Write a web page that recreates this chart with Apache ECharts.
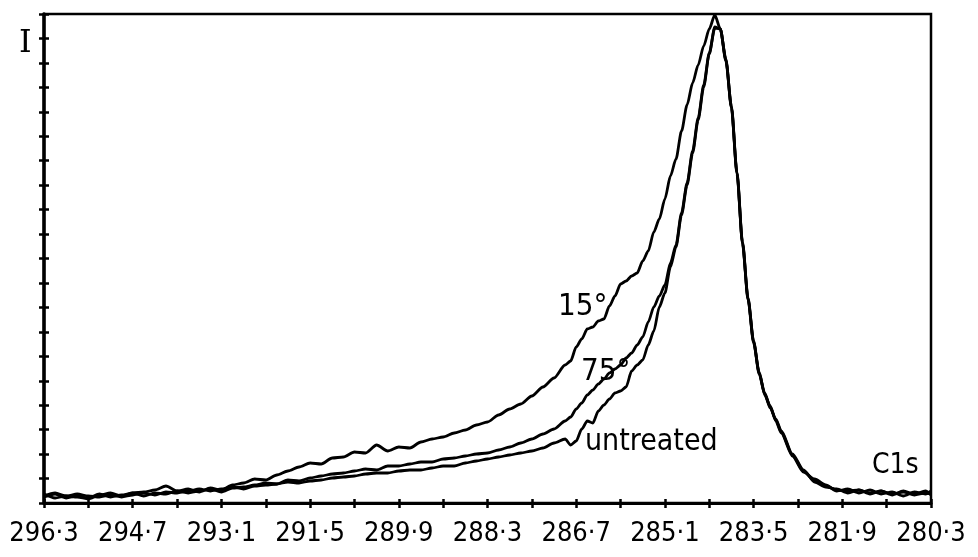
<!DOCTYPE html>
<html>
<head>
<meta charset="utf-8">
<script src="https://cdn.jsdelivr.net/npm/echarts@6/dist/echarts.min.js"></script>
<style>
html,body{margin:0;padding:0;background:#fff;}
#chart{width:978px;height:557px;}
</style>
</head>
<body>
<div id="chart"></div>
<script>
// Binding energy (eV)
const energy = [
  296.3,296.1,295.9,295.7,295.5,295.3,295.1,294.9,294.7,294.5,294.3,294.1,293.9,293.7,293.5,293.3,293.1,292.9,292.7,292.5,
  292.3,292.1,291.9,291.7,291.5,291.3,291.1,290.9,290.7,290.5,290.3,290.1,289.9,289.7,289.5,289.3,289.1,288.9,288.7,288.5,
  288.3,288.1,287.9,287.7,287.5,287.3,287.1,286.9,
  286.8,286.7,286.6,286.5,286.4,286.3,286.2,286.1,286.0,285.9,285.8,285.7,285.6,285.5,285.4,285.3,285.2,285.1,285.0,284.9,
  284.8,284.7,284.6,284.5,284.4,284.3,284.2,284.1,284.0,283.9,283.8,283.7,283.6,283.5,283.4,283.3,283.2,283.1,283.0,
  282.8,282.6,282.4,282.2,282.0,281.8,281.6,281.4,281.2,281.0,280.8,280.6,280.4,280.3
];
// Intensity (arb. units)
const angle15 = [
  7,10,7,6,4,8,10,7,10,11,13,17,12,14,11,15,13,18,20,24,
  23,28,32,36,40,39,45,46,51,50,58,52,56,55,61,64,66,70,73,78,
  81,88,94,99,107,116,125,138,
  142,156,164,174,176,182,184,197,207,219,222,227,230,242,252,271,284,304,327,344,
  372,398,420,438,457,474,488,474,444,396,330,260,204,162,130,110,96,83,71,
  48,32,22,17,13,12,13,10,12,9,11,8,10,9
];
const angle75 = [
  6,9,5,7,5,9,6,8,10,7,10,9,12,10,12,14,11,15,16,18,
  20,19,23,22,25,27,29,30,32,34,33,37,37,39,41,41,44,45,47,49,
  50,53,56,60,64,69,74,82,
  86,94,100,108,113,119,124,130,134,138,145,150,158,166,181,196,207,218,240,258,
  290,320,352,385,418,450,476,474,443,397,331,261,205,161,129,109,95,84,72,
  49,33,21,16,14,10,13,9,12,8,12,9,12,8
];
const untreated = [
  9,5,7,9,7,6,8,6,8,10,8,11,10,12,14,12,14,16,14,17,
  18,19,21,20,22,23,25,26,27,29,30,30,32,33,33,35,37,37,40,42,
  44,46,48,50,52,55,60,64,
  58,62,74,82,80,92,98,104,110,112,116,132,138,143,158,172,196,210,236,256,
  288,318,350,383,416,449,475,474,442,395,329,259,203,160,131,108,97,82,70,
  47,31,24,18,12,14,10,13,9,11,7,11,9,12
];
const tickValues = [280.3,281.9,283.5,285.1,286.7,288.3,289.9,291.5,293.1,294.7,296.3];
const tickLabels = ['280·3','281·9','283·5','285·1','286·7','288·3','289·9','291·5','293·1','294·7','296·3'];
const seriesNames = ['15°','75°','untreated'];

const pairs = arr => energy.map((e, i) => [e, arr[i]]);
const labelFont = "'DejaVu Sans Condensed',sans-serif";

const chart = echarts.init(document.getElementById('chart'), null, {renderer: 'canvas'});
const xBase = {
  type: 'value', min: 280.3, max: 296.3, interval: 1.6, inverse: true, position: 'bottom',
  splitLine: {show: false}, minorSplitLine: {show: false}
};
const yBase = {
  type: 'value', min: 0, max: 489, interval: 24.45, position: 'left',
  splitLine: {show: false}, axisLabel: {show: false}
};
const lineStyle = {color: '#000', width: 2.8};
const mkSeries = (name, arr) => ({
  name: name, type: 'line', data: pairs(arr), showSymbol: false, symbol: 'none',
  smooth: 0.25, smoothMonotone: 'x', lineStyle: lineStyle, z: 3
});
chart.setOption({
  animation: false,
  backgroundColor: '#fff',
  grid: {left: 44, right: 47, top: 14, bottom: 54, show: true, borderColor: '#000', borderWidth: 2.5},
  xAxis: [
    Object.assign({}, xBase, {
      axisLine: {show: true, onZero: false, lineStyle: {color: '#000', width: 3}},
      axisTick: {show: true, length: 5, inside: false, lineStyle: {color: '#000', width: 2.5}},
      minorTick: {show: true, splitNumber: 2, length: 5, lineStyle: {color: '#000', width: 2.5}},
      axisLabel: {
        show: true, margin: 17, color: '#000', fontSize: 27, fontFamily: labelFont,
        formatter: v => {
          const i = tickValues.findIndex(t => Math.abs(t - v) < 0.01);
          return i >= 0 ? tickLabels[i] : '';
        }
      }
    }),
    Object.assign({}, xBase, {
      axisLine: {show: false, onZero: false},
      axisTick: {show: true, length: 4, inside: true, lineStyle: {color: '#000', width: 2.5}},
      minorTick: {show: true, splitNumber: 2, length: 4, lineStyle: {color: '#000', width: 2.5}},
      axisLabel: {show: false}
    })
  ],
  yAxis: [
    Object.assign({}, yBase, {
      axisLine: {show: true, onZero: false, lineStyle: {color: '#000', width: 3.5}},
      axisTick: {show: true, length: 5, inside: false, lineStyle: {color: '#000', width: 2.5}}
    }),
    Object.assign({}, yBase, {
      axisLine: {show: false, onZero: false},
      axisTick: {show: true, length: 5, inside: true, lineStyle: {color: '#000', width: 2.5}}
    })
  ],
  series: [
    mkSeries(seriesNames[0], angle15),
    mkSeries(seriesNames[1], angle75),
    mkSeries(seriesNames[2], untreated)
  ],
  graphic: [
    {type: 'text', left: 19, top: 28, style: {text: 'I', font: "32px 'DejaVu Serif', serif", fill: '#000'}},
    {type: 'text', left: 558, top: 291, style: {text: '15°', font: "31px " + labelFont, fill: '#000'}},
    {type: 'text', left: 581, top: 356, style: {text: '75°', font: "31px " + labelFont, fill: '#000'}},
    {type: 'text', left: 585, top: 427, style: {text: 'untreated', font: "30px " + labelFont, fill: '#000'}},
    {type: 'text', left: 872, top: 452, style: {text: 'C1s', font: "28px " + labelFont, fill: '#000'}}
  ]
});
</script>
</body>
</html>
